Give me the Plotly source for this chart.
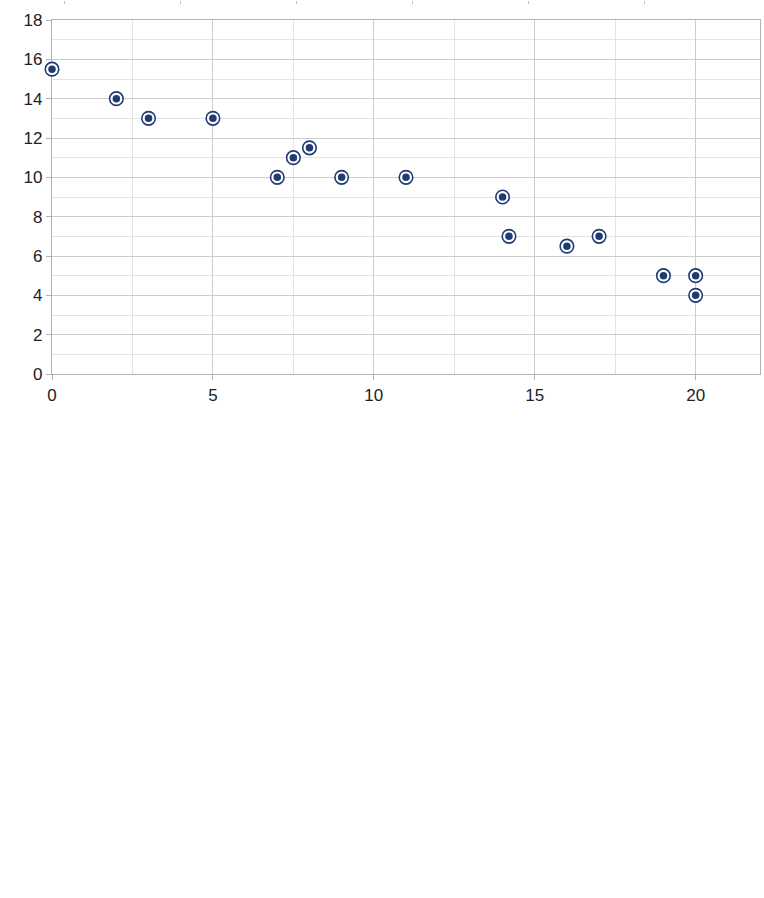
import plotly.graph_objects as go

x_vals = [0, 2, 3, 5, 7, 7.5, 8, 9, 11, 14, 14.2, 16, 17, 19, 20, 20]
y_vals = [15.5, 14, 13, 13, 10, 11, 11.5, 10, 10, 9, 7, 6.5, 7, 5, 5, 4]

navy = "#1f3b73"
H = 898
top_px, bot_px = 20, 374

fig = go.Figure()
fig.add_trace(go.Scatter(
    x=x_vals, y=y_vals, mode="markers",
    marker=dict(symbol="circle", size=13.5, color="white", line=dict(color=navy, width=1.6)),
    hoverinfo="skip", showlegend=False, cliponaxis=False))
fig.add_trace(go.Scatter(
    x=x_vals, y=y_vals, mode="markers",
    marker=dict(symbol="circle", size=7.5, color=navy, line=dict(width=0)),
    showlegend=False, cliponaxis=False))
# phantom trace for the top axis
fig.add_trace(go.Scatter(x=[], y=[], xaxis="x2", yaxis="y", showlegend=False))

fig.update_layout(
    width=764, height=H,
    margin=dict(l=52, r=4, t=0, b=0, autoexpand=False),
    paper_bgcolor="white", plot_bgcolor="white",
    font=dict(family="Liberation Sans, Arial, sans-serif", size=17, color="#222222"),
    xaxis=dict(range=[0, 22], tickvals=[0, 5, 10, 15, 20], automargin=False,
               showgrid=True, gridcolor="#cccccc", gridwidth=1.2,
               minor=dict(dtick=2.5, tick0=0, showgrid=True, gridcolor="#e3e3e3", gridwidth=1, ticks=""),
               showline=True, linecolor="#b3b3b3", linewidth=1.2, mirror=True,
               ticks="outside", ticklen=5, tickcolor="#b3b3b3", zeroline=False,
               layer="below traces", anchor="y"),
    yaxis=dict(range=[0, 18], dtick=2, domain=[1 - bot_px / H, 1 - top_px / H], automargin=False,
               showgrid=True, gridcolor="#cccccc", gridwidth=1.2,
               minor=dict(dtick=1, showgrid=True, gridcolor="#e3e3e3", gridwidth=1, ticks=""),
               showline=True, linecolor="#b3b3b3", linewidth=1.2, mirror=True,
               ticks="outside", ticklen=5, tickcolor="#b3b3b3", zeroline=False,
               layer="below traces"),
    xaxis2=dict(overlaying="x", anchor="free", position=1, side="top", automargin=False,
                range=[-12 / 116, 708 / 116 - 12 / 116], dtick=1, tick0=0,
                ticks="inside", ticklen=3, tickcolor="#c0c0c0",
                showticklabels=False, showgrid=False, showline=False, zeroline=False),
)

fig.write_html(
    "out.html",
    config={"displayModeBar": False},
    post_script="document.documentElement.style.margin='0';document.body.style.margin='0';"
                "document.body.style.overflow='hidden';",
)
